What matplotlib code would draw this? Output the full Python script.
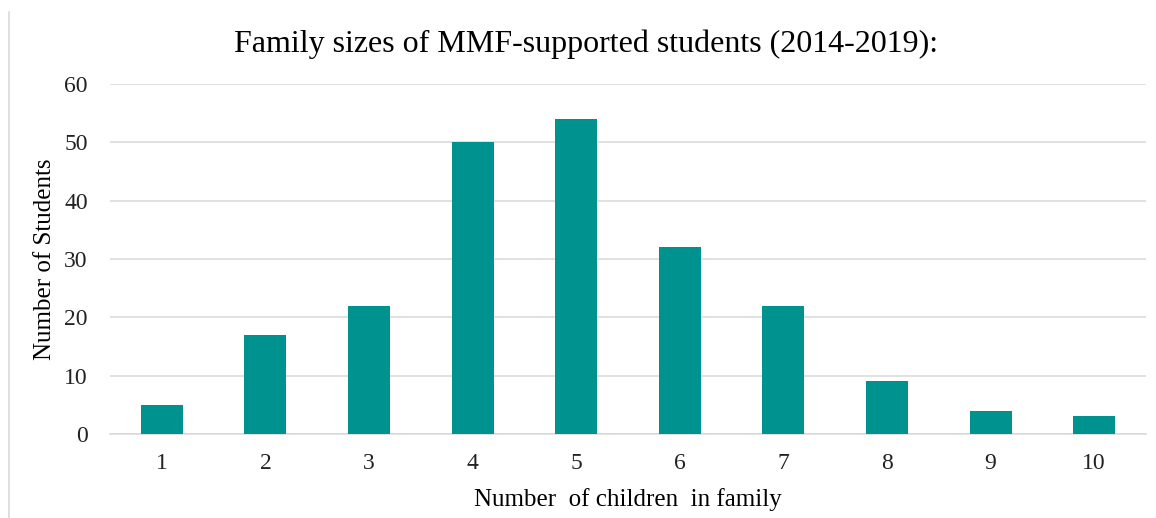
import matplotlib.pyplot as plt
from matplotlib.lines import Line2D

# Family sizes data
children = ["1", "2", "3", "4", "5", "6", "7", "8", "9", "10"]
students = [5, 17, 22, 50, 54, 32, 22, 9, 4, 3]

plt.rcParams['font.family'] = ['Liberation Serif', 'DejaVu Serif']

fig = plt.figure(figsize=(11.56, 5.18), dpi=100)
ax = fig.add_axes([0.0952, 0.1622, 0.8961, 0.6756])

ax.bar(range(len(children)), students, width=0.405, color='#00928F', zorder=3)

ax.set_xlim(-0.5, len(children) - 0.5)
ax.set_ylim(0, 60)
ax.set_yticks(range(0, 61, 10))
ax.set_xticks(range(len(children)))
ax.set_xticklabels(children)

ax.grid(axis='y', color='#d9d9d9', linewidth=1.1, zorder=0)
for s in ['top', 'right', 'left']:
    ax.spines[s].set_visible(False)
ax.spines['bottom'].set_color('#d9d9d9')
ax.spines['bottom'].set_linewidth(1.1)
ax.tick_params(axis='both', length=0, labelsize=17, colors='#222222')
ax.tick_params(axis='y', pad=16)
ax.tick_params(axis='x', pad=14)

ax.set_xlabel("Number  of children  in family", fontsize=18, labelpad=10)
ax.set_ylabel("Number of Students", fontsize=18, labelpad=6)

fig.text(0.507, 0.915, "Family sizes of MMF-supported students (2014-2019):",
         ha='center', va='center', fontsize=23)

# thin frame line at the left edge
fig.add_artist(Line2D([0.0075, 0.0075], [0.0, 0.977], transform=fig.transFigure,
                      color='#d9d9d9', linewidth=1.2))

fig.savefig("out.png", dpi=100)
